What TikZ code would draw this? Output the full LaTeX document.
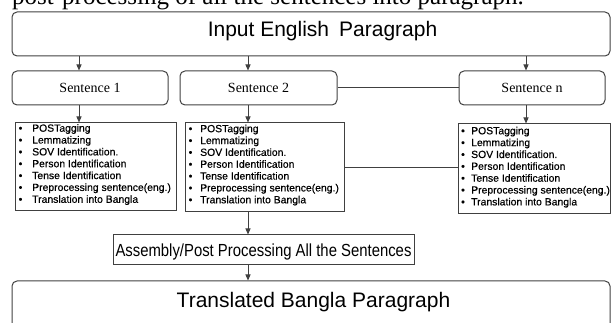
\documentclass[tikz,border=0pt]{standalone}
\usepackage{fontspec}
\usepackage{graphicx}
\setmainfont{Liberation Serif}
\newfontfamily\arialf{Liberation Sans}
\newfontfamily\arialitem[FakeBold=0.5]{Liberation Sans}
\usetikzlibrary{arrows.meta}
\definecolor{linegray}{HTML}{404040}
\begin{document}
\begin{tikzpicture}[x=1pt,y=-1pt,
  line/.style={draw=linegray, line width=1pt},
  arr/.style={line, -{Triangle[length=6pt,width=5pt]}},
  rbox/.style={line, rectangle, rounded corners=5pt, inner sep=0pt},
  sbox/.style={line, rectangle, inner sep=0pt},
  senttext/.style={font=\fontsize{14}{16}\selectfont},
  itemtext/.style={anchor=base west, inner sep=0pt, font=\arialitem\fontsize{10.4}{12}\selectfont},
  bigtext/.style={anchor=base, inner sep=0pt, font=\arialf\fontsize{21}{25}\selectfont},
]
\useasboundingbox (0,0) rectangle (611,323);
\clip (0,0) rectangle (611,323);

% caption fragment at top (cut off, as in the reference)
\node[anchor=base west, inner sep=0pt, font=\fontsize{25}{30}\selectfont] (cap) at (12,5)
  {post-processing of all the sentences into paragraph.};

% input box
\node[rbox, minimum width=598pt, minimum height=44pt] (inp) at (311,34) {};
\node[bigtext] (inpt) at (322.5,37) {Input English\hspace{10pt}Paragraph};

% sentence boxes
\node[rbox, senttext, minimum width=156pt, minimum height=34pt] (s1) at (90,88) {Sentence 1};
\node[rbox, senttext, minimum width=157pt, minimum height=34pt] (s2) at (258.5,88) {Sentence 2};
\node[rbox, senttext, minimum width=146pt, minimum height=34pt] (sn) at (532,88) {Sentence n};

% bullet boxes
\node[sbox, minimum width=161pt, minimum height=88pt] (b1) at (95.5,167) {};
\node[sbox, minimum width=159pt, minimum height=89pt] (b2) at (264.5,167.5) {};
\node[sbox, minimum width=152pt, minimum height=90pt] (bn) at (534,169) {};

\foreach \t [count=\i] in {POSTagging,Lemmatizing,SOV Identification.,Person Identification,Tense Identification,Preprocessing sentence(eng.),Translation into Bangla}{
  \node[itemtext] (pa\i) at (18.5,{131.7+11.85*(\i-1)}) {\textbullet};
  \node[itemtext] (ta\i) at (32,{131.7+11.85*(\i-1)}) {\t};
  \node[itemtext] (pb\i) at (188.5,{132.2+11.85*(\i-1)}) {\textbullet};
  \node[itemtext] (tb\i) at (200,{132.2+11.85*(\i-1)}) {\t};
  \node[itemtext] (pn\i) at (461,{134.3+11.85*(\i-1)}) {\textbullet};
  \node[itemtext] (tn\i) at (471,{134.3+11.85*(\i-1)}) {\t};
}

% assembly box
\node[sbox, minimum width=301pt, minimum height=30pt] (asm) at (263.5,250) {};
\node[anchor=base, inner sep=0pt, font=\arialf\fontsize{17.5}{20}\selectfont] (asmt) at (263.5,256.5)
  {\scalebox{0.85}[1]{Assembly/Post Processing All the Sentences}};

% translated box
\node[rbox, minimum width=598pt, minimum height=64pt] (tr) at (311,313) {};
\node[bigtext] (trt) at (313.5,308) {Translated Bangla Paragraph};

% arrow columns
\coordinate (x1) at (79,0);
\coordinate (x2) at (248,0);
\coordinate (xn) at (526,0);

\draw[arr] (inp.south -| x1) -- (s1.north -| x1);
\draw[arr] (inp.south -| x2) -- (s2.north -| x2);
\draw[arr] (inp.south -| xn) -- (sn.north -| xn);
\draw[arr] (s1.south -| x1) -- (b1.north -| x1);
\draw[arr] (s2.south -| x2) -- (b2.north -| x2);
\draw[arr] (sn.south -| xn) -- (bn.north -| xn);
\draw[arr] (b2.south -| x2) -- (asm.north -| x2);
\draw[arr] (asm.south -| x2) -- (tr.north -| x2);

% horizontal links
\draw[line] (s2.east) -- (s2.east -| sn.west);
\draw[line] (b2.east) -- (b2.east -| bn.west);
\end{tikzpicture}
\end{document}
